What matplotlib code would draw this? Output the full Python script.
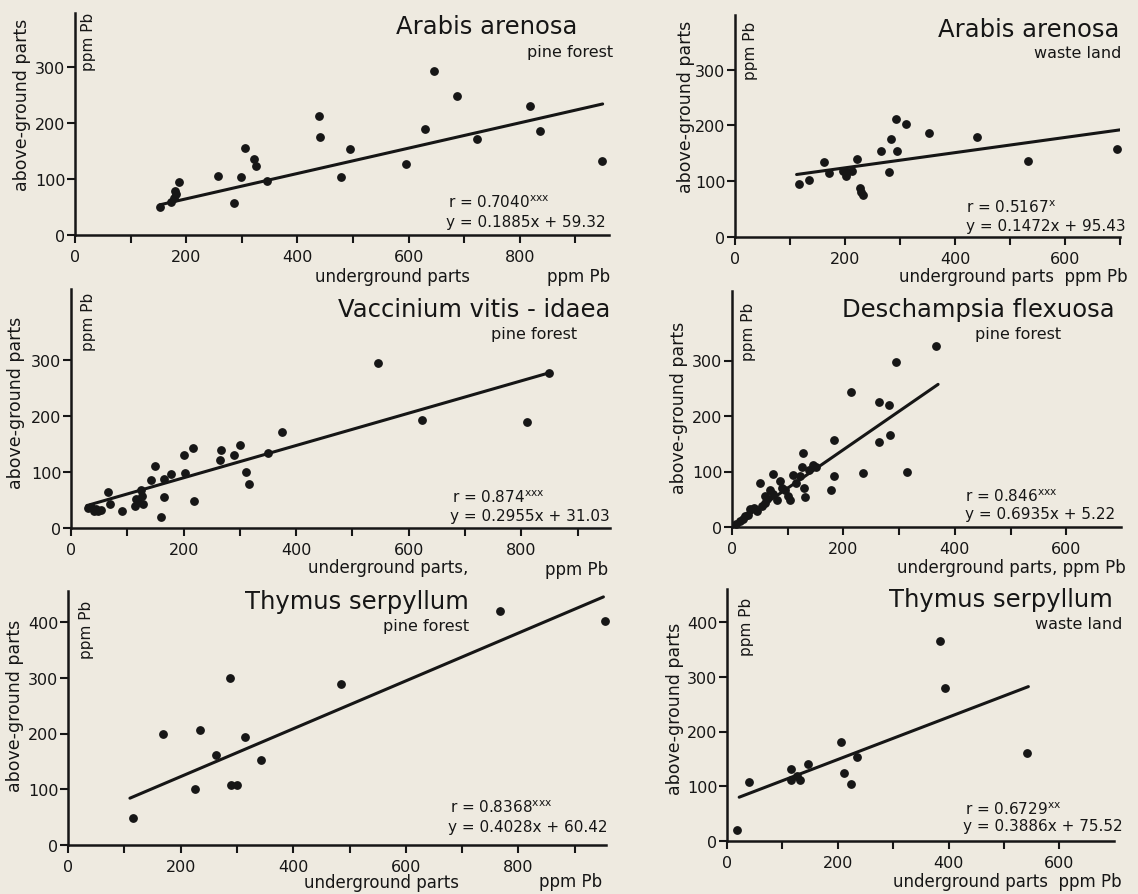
import matplotlib.pyplot as plt
from matplotlib.ticker import MultipleLocator, FixedLocator

W, H = 1138, 895
PAPER = '#eeeae0'
INK = '#161616'
plt.rcParams['font.family'] = ['DejaVu Sans']

# Arabis arenosa, pine forest
aap_x = [153, 172, 180, 181, 178, 187, 257, 286, 299, 305, 322, 326, 346, 439, 440,
         478, 494, 595, 630, 646, 687, 723, 819, 836, 948]
aap_y = [50, 59, 79, 73, 66, 95, 105, 57, 104, 155, 135, 123, 96, 213, 175,
         104, 154, 126, 189, 292, 248, 172, 230, 186, 133]
aap_line_x = [153, 949]
aap_line_y = [54, 234]

# Arabis arenosa, waste land
aaw_x = [117, 135, 161, 171, 196, 204, 212, 202, 221, 227, 229, 232, 266, 280, 283,
         292, 295, 311, 353, 440, 533, 695]
aaw_y = [95, 103, 134, 115, 119, 117, 118, 109, 139, 87, 80, 76, 154, 116, 176,
         211, 154, 203, 186, 179, 136, 157]
aaw_line_x = [112, 700]
aaw_line_y = [112, 192]

# Vaccinium vitis-idaea, pine forest
vv_x = [31, 36, 40, 44, 48, 54, 65, 69, 90, 113, 116, 119, 124, 126, 128, 142, 150,
        159, 166, 166, 177, 200, 202, 217, 218, 264, 267, 289, 300, 311, 317, 350,
        375, 546, 623, 810, 849]
vv_y = [36, 38, 31, 34, 30, 32, 64, 43, 30, 40, 52, 46, 67, 58, 43, 86, 110,
        20, 87, 55, 96, 130, 99, 142, 48, 122, 139, 131, 149, 100, 78, 134,
        171, 294, 192, 189, 277]
vv_line_x = [28, 849]
vv_line_y = [40, 277]

# Deschampsia flexuosa, pine forest
df_x = [8, 15, 20, 24, 28, 33, 39, 45, 53, 59, 50, 60, 63, 68, 73, 74, 80, 86, 89,
        95, 101, 104, 110, 115, 122, 125, 128, 129, 131, 139, 145, 151, 178, 184,
        184, 214, 236, 264, 264, 283, 281, 294, 315, 367]
df_y = [6, 11, 15, 20, 22, 32, 35, 29, 37, 43, 79, 55, 50, 67, 96, 60, 49, 82, 70,
        67, 55, 49, 94, 80, 91, 109, 133, 71, 54, 103, 112, 109, 67, 157,
        92, 244, 98, 154, 225, 165, 219, 297, 99, 326]
df_line_x = [6, 370]
df_line_y = [5, 257]

# Thymus serpyllum, pine forest
tsp_x = [116, 168, 226, 235, 263, 287, 290, 301, 314, 342, 485, 767, 953]
tsp_y = [48, 200, 100, 206, 161, 300, 107, 108, 194, 152, 288, 420, 401]
tsp_line_x = [110, 951]
tsp_line_y = [84, 445]

# Thymus serpyllum, waste land
tsw_x = [18, 40, 116, 116, 126, 131, 147, 205, 212, 224, 234, 384, 394, 541]
tsw_y = [21, 108, 131, 111, 119, 111, 140, 181, 124, 105, 154, 366, 280, 160]
tsw_line_x = [22, 544]
tsw_line_y = [80, 282]

fig = plt.figure(figsize=(W / 100, H / 100), dpi=100, facecolor=PAPER)


def txt(x, y, s, size=12, ha='left', va='center', rot=0):
    fig.text(x / W, 1 - y / H, s, fontsize=size, ha=ha, va=va, rotation=rot,
             color=INK)


def panel(origin, scale, lim, yticks, xs, ys, lx, ly):
    x0, y0 = origin
    sx, sy = scale
    xmax, ymax = lim
    ax = fig.add_axes([x0 / W, 1 - y0 / H, xmax * sx / W, ymax * sy / H])
    ax.set_facecolor('none')
    ax.set_xlim(0, xmax)
    ax.set_ylim(0, ymax)
    for side in ['top', 'right']:
        ax.spines[side].set_visible(False)
    for side in ['left', 'bottom']:
        ax.spines[side].set_linewidth(1.8)
        ax.spines[side].set_color(INK)
    ax.xaxis.set_major_locator(MultipleLocator(200))
    ax.xaxis.set_minor_locator(MultipleLocator(100))
    ax.yaxis.set_major_locator(FixedLocator(yticks))
    ax.tick_params(which='both', direction='out', length=6, width=1.5,
                   color=INK, labelcolor=INK, labelsize=11.5)
    ax.tick_params(axis='x', pad=4)
    ax.tick_params(axis='y', pad=1)
    ax.plot(lx, ly, color=INK, lw=2.2, solid_capstyle='round')
    ax.plot(xs, ys, 'o', color=INK, ms=5.3, clip_on=False)
    return ax


sup = r'$^{\mathrm{%s}}$'

# top left
panel((75, 236), (0.556, 0.56), (960, 396), [0, 100, 200, 300],
      aap_x, aap_y, aap_line_x, aap_line_y)
txt(577, 27, 'Arabis arenosa', 17.5, ha='right')
txt(613, 52, 'pine forest', 11.5, ha='right')
txt(448, 203, 'r = 0.7040' + sup % 'xxx', 11)
txt(446, 223, 'y = 0.1885x + 59.32', 11)
txt(315, 277, 'underground parts', 12)
txt(610, 277, 'ppm Pb', 12, ha='right')
txt(22, 105, 'above-ground parts', 12.5, ha='center', rot=90)
txt(89, 42, 'ppm Pb', 11, ha='center', rot=90)

# top right
panel((735, 238), (0.55, 0.558), (700, 397), [0, 100, 200, 300],
      aaw_x, aaw_y, aaw_line_x, aaw_line_y)
txt(1119, 30, 'Arabis arenosa', 17.5, ha='right')
txt(1121, 53, 'waste land', 11.5, ha='right')
txt(966, 208, 'r = 0.5167' + sup % 'x', 11)
txt(966, 227, 'y = 0.1472x + 95.43', 11)
txt(1128, 277, 'underground parts  ppm Pb', 12, ha='right')
txt(686, 107, 'above-ground parts', 12.5, ha='center', rot=90)
txt(750, 51, 'ppm Pb', 11, ha='center', rot=90)

# middle left
panel((71, 529), (0.563, 0.56), (958, 427), [0, 100, 200, 300],
      vv_x, vv_y, vv_line_x, vv_line_y)
txt(610, 310, 'Vaccinium vitis - idaea', 17.5, ha='right')
txt(577, 335, 'pine forest', 11.5, ha='right')
txt(452, 498, 'r = 0.874' + sup % 'xxx', 11)
txt(450, 517, 'y = 0.2955x + 31.03', 11)
txt(308, 568, 'underground parts,', 12)
txt(608, 570, 'ppm Pb', 12, ha='right')
txt(16, 403, 'above-ground parts', 12.5, ha='center', rot=90)
txt(89, 322, 'ppm Pb', 11, ha='center', rot=90)

# middle right
panel((732, 528), (0.557, 0.555), (698, 425), [0, 100, 200, 300],
      df_x, df_y, df_line_x, df_line_y)
txt(1115, 310, 'Deschampsia flexuosa', 17.5, ha='right')
txt(1061, 335, 'pine forest', 11.5, ha='right')
txt(965, 497, 'r = 0.846' + sup % 'xxx', 11)
txt(965, 515, 'y = 0.6935x + 5.22', 11)
txt(1126, 568, 'underground parts, ppm Pb', 12, ha='right')
txt(679, 408, 'above-ground parts', 12.5, ha='center', rot=90)
txt(748, 332, 'ppm Pb', 11, ha='center', rot=90)

# bottom left
panel((68, 846), (0.563, 0.5575), (955, 455), [0, 100, 200, 300, 400],
      tsp_x, tsp_y, tsp_line_x, tsp_line_y)
txt(469, 602, 'Thymus serpyllum', 17.5, ha='right')
txt(469, 627, 'pine forest', 11.5, ha='right')
txt(450, 808, 'r = 0.8368' + sup % 'xxx', 11)
txt(448, 828, 'y = 0.4028x + 60.42', 11)
txt(304, 883, 'underground parts', 12)
txt(602, 882, 'ppm Pb', 12, ha='right')
txt(15, 706, 'above-ground parts', 12.5, ha='center', rot=90)
txt(87, 630, 'ppm Pb', 11, ha='center', rot=90)

# bottom right
panel((727, 842), (0.554, 0.5475), (698, 460), [0, 100, 200, 300, 400],
      tsw_x, tsw_y, tsw_line_x, tsw_line_y)
txt(1113, 600, 'Thymus serpyllum', 17.5, ha='right')
txt(1122, 625, 'waste land', 11.5, ha='right')
txt(965, 810, 'r = 0.6729' + sup % 'xx', 11)
txt(963, 827, 'y = 0.3886x + 75.52', 11)
txt(1122, 882, 'underground parts  ppm Pb', 12, ha='right')
txt(675, 709, 'above-ground parts', 12.5, ha='center', rot=90)
txt(747, 627, 'ppm Pb', 11, ha='center', rot=90)

fig.savefig('out.png', dpi=100, facecolor=PAPER)
